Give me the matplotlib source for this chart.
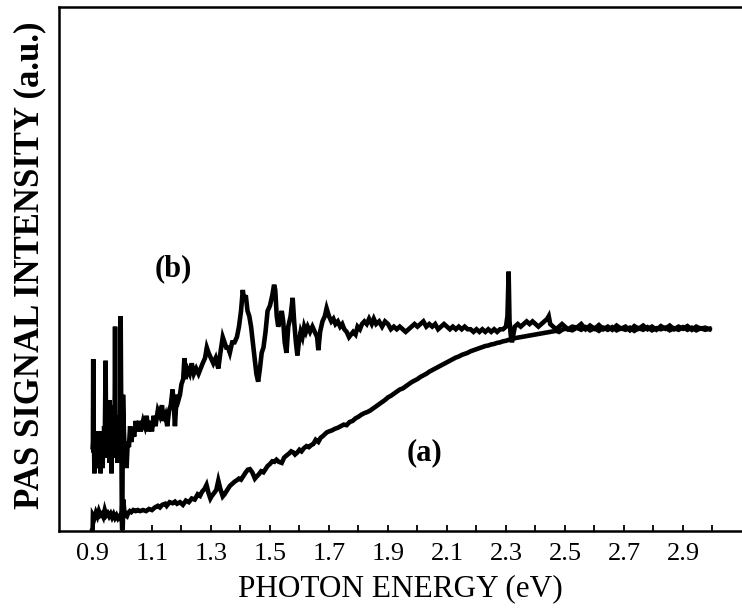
import matplotlib
matplotlib.use("Agg")
import matplotlib.pyplot as plt

# ---- curve (b) ----
b_energy = [0.899, 0.900, 0.901, 0.902, 0.903, 0.905, 0.907, 0.909, 0.910, 0.912, 0.913, 0.915,
            0.916, 0.918, 0.920, 0.922, 0.924, 0.926, 0.928, 0.930, 0.931, 0.933, 0.935, 0.937,
            0.938, 0.940, 0.941, 0.943, 0.945, 0.947, 0.948, 0.950, 0.951, 0.953, 0.954, 0.956,
            0.957, 0.959, 0.960, 0.962, 0.963, 0.965, 0.966, 0.968, 0.969, 0.971, 0.972, 0.974,
            0.975, 0.977, 0.979, 0.980, 0.982, 0.983, 0.985, 0.986, 0.988, 0.989, 0.991, 0.992,
            0.994, 0.996, 0.998,
            1.000, 1.002, 1.005, 1.008, 1.011, 1.014, 1.018, 1.022, 1.026, 1.030, 1.035, 1.040,
            1.045, 1.050, 1.056, 1.062, 1.070, 1.076, 1.082, 1.088, 1.095, 1.100, 1.106, 1.112,
            1.120, 1.127, 1.134, 1.140, 1.146, 1.152, 1.158, 1.164, 1.170, 1.175, 1.178, 1.184,
            1.190, 1.195, 1.200, 1.206, 1.210, 1.214, 1.220, 1.228, 1.235, 1.242, 1.250, 1.258,
            1.265, 1.272, 1.280, 1.286, 1.292, 1.300, 1.308, 1.316, 1.325, 1.332, 1.340, 1.346,
            1.352, 1.358, 1.364, 1.372, 1.380, 1.388, 1.395, 1.402, 1.408, 1.412, 1.418, 1.424,
            1.430, 1.436, 1.442, 1.448, 1.454, 1.460, 1.466, 1.472, 1.478, 1.485, 1.492, 1.500,
            1.508, 1.514, 1.518, 1.523, 1.528, 1.533, 1.540, 1.545, 1.550, 1.556, 1.562, 1.570,
            1.577, 1.582, 1.588, 1.593, 1.598, 1.604, 1.610, 1.616, 1.622, 1.628, 1.636, 1.644,
            1.652, 1.660, 1.664, 1.670, 1.678, 1.686, 1.692, 1.700, 1.708, 1.715, 1.722, 1.730,
            1.738, 1.745, 1.752, 1.760, 1.768, 1.775, 1.782, 1.790, 1.797, 1.805, 1.812, 1.820,
            1.828, 1.836, 1.845, 1.852, 1.860, 1.870, 1.880, 1.890, 1.900, 1.910, 1.920, 1.930,
            1.940, 1.950, 1.960, 1.970, 1.980, 1.990, 2.000, 2.010, 2.020, 2.030, 2.040, 2.050,
            2.060, 2.070, 2.080, 2.090, 2.100, 2.110, 2.120, 2.130, 2.140, 2.150, 2.160, 2.170,
            2.180, 2.190, 2.200, 2.210, 2.220, 2.230, 2.240, 2.250, 2.260, 2.270, 2.280, 2.290,
            2.300, 2.305, 2.309, 2.312, 2.316, 2.320, 2.325, 2.330, 2.340, 2.350, 2.360, 2.370,
            2.380, 2.390, 2.400, 2.410, 2.420, 2.430, 2.440, 2.445, 2.450, 2.460, 2.470, 2.480,
            2.490, 2.500, 2.510, 2.525, 2.540, 2.555, 2.570, 2.585, 2.600, 2.615, 2.630, 2.645,
            2.660, 2.675, 2.690, 2.705, 2.720, 2.735, 2.750, 2.765, 2.780, 2.795, 2.810, 2.825,
            2.840, 2.855, 2.870, 2.885, 2.900, 2.915, 2.930, 2.945, 2.960, 2.975, 2.990]
b_signal = [1.60, 1.70, 3.28, 1.50, 1.90, 1.10, 1.70, 1.20, 1.80, 1.30, 1.90, 1.40,
            1.70, 1.20, 1.90, 1.50, 1.80, 1.10, 1.70, 1.30, 1.80, 1.20, 1.90, 1.40,
            2.00, 1.60, 2.20, 3.25, 1.50, 2.30, 1.60, 2.40, 1.40, 2.20, 1.60, 2.50,
            1.30, 2.10, 1.50, 2.20, 1.10, 2.00, 1.50, 2.30, 1.60, 2.40, 1.80, 2.60,
            3.90, 1.40, 2.10, 1.50, 1.90, 1.30, 2.00, 1.60, 2.20, 1.50, 2.10, 1.70,
            4.10, 2.20, 0.25,
            0.60, 2.60, 1.90, 1.50, 1.70, 1.20, 1.70, 1.60, 2.00, 1.70, 1.90, 1.80,
            2.10, 1.90, 2.10, 1.90, 2.10, 2.00, 2.20, 1.90, 2.10, 1.90, 2.20, 2.00,
            2.30, 2.20, 2.40, 2.10, 2.20, 2.00, 2.30, 2.40, 2.70, 2.30, 2.00, 2.60,
            2.50, 2.60, 2.80, 2.90, 3.30, 2.90, 3.10, 3.00, 3.20, 3.00, 3.10, 3.00,
            3.10, 3.20, 3.30, 3.50, 3.40, 3.30, 3.20, 3.30, 3.10, 3.40, 3.70, 3.60,
            3.50, 3.50, 3.40, 3.60, 3.60, 3.70, 3.90, 4.20, 4.60, 4.40, 4.50, 4.20,
            4.10, 3.90, 3.60, 3.30, 3.00, 2.85, 3.10, 3.40, 3.50, 3.80, 4.20, 4.30,
            4.50, 4.70, 4.60, 4.10, 3.90, 4.00, 4.20, 4.00, 3.60, 3.40, 3.90, 4.10,
            4.45, 4.00, 3.60, 3.35, 3.60, 3.80, 3.70, 3.90, 3.80, 3.90, 3.80, 3.90,
            3.80, 3.70, 3.45, 3.80, 4.00, 4.10, 4.25, 4.10, 4.00, 4.05, 3.95, 4.00,
            3.90, 3.95, 3.85, 3.80, 3.70, 3.75, 3.80, 3.75, 3.90, 3.85, 3.95, 4.00,
            3.95, 4.05, 3.95, 4.05, 3.95, 4.00, 3.90, 4.00, 3.95, 3.85, 3.90, 3.85,
            3.90, 3.85, 3.80, 3.85, 3.90, 3.95, 3.90, 3.95, 4.00, 3.90, 3.95, 3.90,
            3.95, 3.85, 3.90, 3.95, 3.90, 3.85, 3.90, 3.85, 3.90, 3.85, 3.90, 3.85,
            3.85, 3.80, 3.85, 3.80, 3.85, 3.80, 3.85, 3.80, 3.85, 3.80, 3.85, 3.85,
            3.90, 4.10, 4.95, 4.00, 3.75, 3.60, 3.75, 3.90, 3.95, 3.90, 3.95, 4.00,
            3.95, 4.00, 3.95, 3.90, 3.95, 4.00, 4.05, 4.10, 3.95, 3.90, 3.85, 3.90,
            3.95, 3.90, 3.85, 3.90, 3.88, 3.95, 3.85, 3.92, 3.86, 3.93, 3.85, 3.90,
            3.84, 3.92, 3.86, 3.90, 3.83, 3.91, 3.86, 3.92, 3.85, 3.90, 3.84, 3.91,
            3.86, 3.92, 3.85, 3.90, 3.86, 3.91, 3.84, 3.90, 3.86, 3.88, 3.85]

# ---- curve (a) ----
a_energy = [0.897, 0.899, 0.900, 0.905, 0.910, 0.915, 0.920, 0.925, 0.930, 0.935, 0.940, 0.945,
            0.950, 0.955, 0.960, 0.965, 0.970, 0.975, 0.980, 0.985, 0.990, 0.995, 0.998, 0.999,
            1.001, 1.003, 1.006, 1.010, 1.015, 1.020, 1.025, 1.030, 1.037, 1.045, 1.052, 1.060,
            1.070, 1.080, 1.090, 1.100, 1.110, 1.120, 1.127, 1.135, 1.145, 1.150, 1.160, 1.170,
            1.178, 1.185, 1.195, 1.205, 1.215, 1.225, 1.235, 1.245, 1.255, 1.263, 1.270, 1.278,
            1.285, 1.292, 1.298, 1.302, 1.310, 1.318, 1.325, 1.332, 1.340, 1.346, 1.355, 1.364,
            1.372, 1.380, 1.388, 1.395, 1.402, 1.410, 1.418, 1.425, 1.432, 1.440, 1.449, 1.455,
            1.462, 1.470, 1.478, 1.485, 1.492, 1.500, 1.508, 1.515, 1.522, 1.530, 1.540, 1.548,
            1.556, 1.565, 1.572, 1.579, 1.585, 1.593, 1.600, 1.607, 1.615, 1.624, 1.632, 1.640,
            1.647, 1.655, 1.664, 1.672, 1.681, 1.692, 1.700, 1.710, 1.720, 1.730, 1.740, 1.750,
            1.760, 1.770, 1.780, 1.790, 1.800, 1.810, 1.820, 1.830, 1.840, 1.850, 1.860, 1.870,
            1.880, 1.890, 1.900, 1.910, 1.920, 1.930, 1.940, 1.950, 1.960, 1.970, 1.980, 1.990,
            2.000, 2.010, 2.020, 2.030, 2.040, 2.050, 2.060, 2.070, 2.080, 2.090, 2.100, 2.110,
            2.120, 2.130, 2.140, 2.150, 2.160, 2.170, 2.180, 2.190, 2.200, 2.210, 2.220, 2.230,
            2.240, 2.250, 2.260, 2.270, 2.280, 2.290, 2.300, 2.310, 2.320, 2.330, 2.340, 2.350,
            2.360, 2.370, 2.380, 2.390, 2.400, 2.410, 2.420, 2.430, 2.440, 2.450, 2.460, 2.470,
            2.480, 2.490, 2.500, 2.510, 2.525, 2.540, 2.555, 2.570, 2.585, 2.600, 2.615, 2.630,
            2.645, 2.660, 2.675, 2.690, 2.705, 2.720, 2.735, 2.750, 2.765, 2.780, 2.795, 2.810,
            2.825, 2.840, 2.855, 2.870, 2.885, 2.900, 2.915, 2.930, 2.945, 2.960, 2.975, 2.990]
a_signal = [0.00, 0.00, 0.30, 0.25, 0.35, 0.28, 0.38, 0.30, 0.33, 0.27, 0.40, 0.30,
            0.34, 0.28, 0.33, 0.26, 0.32, 0.25, 0.30, 0.24, 0.28, 0.22, 0.20, 0.02,
            0.05, 0.60, 0.40, 0.30, 0.28, 0.35, 0.38, 0.36, 0.40, 0.38, 0.40, 0.38,
            0.40, 0.38, 0.42, 0.40, 0.45, 0.48, 0.45, 0.50, 0.52, 0.48, 0.55, 0.53,
            0.56, 0.52, 0.55, 0.50, 0.58, 0.55, 0.62, 0.60, 0.70, 0.67, 0.75, 0.80,
            0.88, 0.72, 0.62, 0.66, 0.72, 0.78, 0.96, 0.80, 0.66, 0.70, 0.78, 0.86,
            0.90, 0.94, 0.97, 1.00, 0.98, 1.05, 1.12, 1.17, 1.18, 1.12, 1.00, 1.04,
            1.08, 1.14, 1.12, 1.18, 1.24, 1.28, 1.33, 1.32, 1.36, 1.32, 1.30, 1.40,
            1.44, 1.48, 1.52, 1.50, 1.46, 1.50, 1.55, 1.52, 1.58, 1.62, 1.60, 1.64,
            1.66, 1.74, 1.70, 1.78, 1.82, 1.88, 1.90, 1.92, 1.95, 1.97, 2.00, 2.03,
            2.02, 2.08, 2.10, 2.15, 2.18, 2.22, 2.25, 2.27, 2.30, 2.34, 2.38, 2.42,
            2.46, 2.50, 2.55, 2.58, 2.62, 2.66, 2.70, 2.72, 2.76, 2.80, 2.84, 2.87,
            2.90, 2.94, 2.97, 3.00, 3.04, 3.07, 3.10, 3.13, 3.16, 3.19, 3.22, 3.25,
            3.28, 3.31, 3.33, 3.36, 3.38, 3.40, 3.43, 3.45, 3.47, 3.49, 3.51, 3.53,
            3.54, 3.56, 3.57, 3.59, 3.60, 3.62, 3.63, 3.65, 3.66, 3.68, 3.69, 3.70,
            3.71, 3.72, 3.73, 3.74, 3.75, 3.76, 3.77, 3.78, 3.79, 3.80, 3.81, 3.82,
            3.80, 3.84, 3.86, 3.85, 3.83, 3.88, 3.84, 3.89, 3.83, 3.87, 3.82, 3.88,
            3.84, 3.89, 3.83, 3.87, 3.84, 3.88, 3.82, 3.87, 3.84, 3.89, 3.83, 3.87,
            3.85, 3.88, 3.83, 3.87, 3.84, 3.89, 3.84, 3.88, 3.83, 3.87, 3.84, 3.86]

tick_major = [0.9, 1.1, 1.3, 1.5, 1.7, 1.9, 2.1, 2.3, 2.5, 2.7, 2.9]
tick_labels = ["0.9", "1.1", "1.3", "1.5", "1.7", "1.9", "2.1", "2.3", "2.5", "2.7", "2.9"]
tick_minor = [1.0, 1.2, 1.4, 1.6, 1.8, 2.0, 2.2, 2.4, 2.6, 2.8, 3.0]

serif = ["Liberation Serif", "DejaVu Serif"]

fig = plt.figure(figsize=(7.42, 6.16), dpi=100)
ax = fig.add_axes([59 / 742, (616 - 531) / 616, (742 - 59) / 742, (531 - 7) / 616])
ax.plot(b_energy, b_signal, color="black", lw=3.3, solid_joinstyle="miter")
ax.plot(a_energy, a_signal, color="black", lw=3.3, solid_joinstyle="miter")

ax.set_xlim(0.785, 3.1)
ax.set_ylim(0, 10)
ax.set_xticks(tick_major)
ax.set_xticklabels(tick_labels, fontfamily=serif, fontsize=19)
ax.set_xticks(tick_minor, minor=True)
ax.tick_params(axis="x", which="both", direction="in", length=4, width=1.3, pad=9)
ax.set_yticks([])
ax.spines["right"].set_visible(False)
for s in ["left", "top", "bottom"]:
    ax.spines[s].set_linewidth(1.8)

ax.set_xlabel("PHOTON ENERGY (eV)", fontfamily=serif, fontsize=22.5, labelpad=6)
fig.text(30 / 742, (616 - 265) / 616, "PAS SIGNAL INTENSITY (a.u.)", family=serif,
         fontsize=25, fontweight="bold", rotation=90, ha="center", va="center")

ax.text(1.172, 5.0, "(b)", fontfamily=serif, fontsize=22, fontweight="bold",
        ha="center", va="center")
ax.text(2.025, 1.49, "(a)", fontfamily=serif, fontsize=22, fontweight="bold",
        ha="center", va="center")

fig.savefig("out.png", dpi=100)
